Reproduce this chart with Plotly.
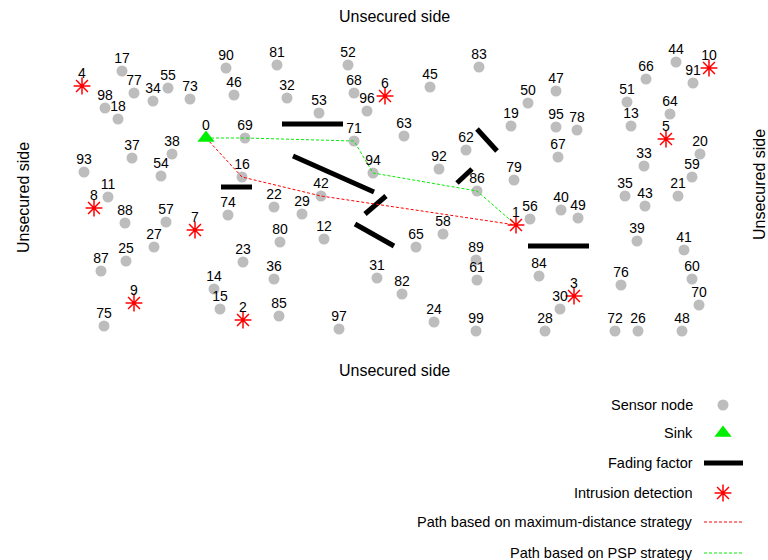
import plotly.graph_objects as go

W, H = 768, 560
FONT = "Liberation Sans, Arial, Helvetica, sans-serif"

# ---- data (field positions, in drawing units) ----
node_ids = list(range(100))
node_x = [206, 516, 243, 574, 82, 666, 385, 195, 94, 134,
          709, 108, 324, 631, 214, 220, 242, 122, 118, 511,
          700, 678, 274, 243, 434, 126, 638, 154, 545, 302,
          560, 377, 287, 644, 153, 625, 274, 132, 172, 637,
          561, 684, 321, 645, 676, 430, 234, 556, 682, 578,
          528, 627, 348, 319, 161, 168, 530, 166, 443, 692,
          692, 477, 466, 404, 670, 416, 646, 558, 354, 245,
          699, 354, 615, 190, 228, 104, 621, 134, 577, 514,
          280, 277, 402, 479, 539, 279, 477, 101, 125, 476,
          226, 693, 439, 84, 373, 556, 367, 339, 105, 476]
node_y = [138, 225, 320, 296, 86, 139, 96, 230, 208, 303,
          68, 197, 239, 126, 289, 309, 177, 71, 119, 126,
          154, 196, 207, 262, 322, 261, 331, 247, 331, 214,
          309, 278, 98, 166, 101, 196, 279, 158, 154, 241,
          210, 250, 196, 206, 62, 87, 95, 91, 331, 218,
          103, 102, 65, 113, 176, 88, 219, 222, 234, 177,
          279, 280, 150, 136, 114, 247, 79, 157, 93, 138,
          305, 141, 331, 99, 215, 326, 285, 93, 130, 180,
          242, 65, 294, 67, 276, 316, 191, 271, 223, 260,
          68, 83, 169, 172, 173, 127, 111, 329, 108, 331]
sink_id = 0
intrusion_ids = [1, 2, 3, 4, 5, 6, 7, 8, 9, 10]
path_max_distance = [0, 16, 42, 1]
path_psp = [0, 69, 71, 94, 86, 1]

# fading factor segments: (x0, y0, x1, y1)
fading_x0 = [282, 221, 293, 365, 355, 477, 457, 528]
fading_y0 = [124, 187, 156, 214, 224, 129, 183, 246]
fading_x1 = [343, 252, 374, 386, 394, 497, 472, 589]
fading_y1 = [124, 187, 192, 196, 246, 151, 169, 246]

side_label = "Unsecured side"
legend_labels = ["Sensor node", "Sink", "Fading factor", "Intrusion detection",
                 "Path based on maximum-distance strategy", "Path based on PSP strategy"]

GRAY = "#bdbdbd"
GREEN = "#00ee00"
RED = "#ff0000"

fig = go.Figure()

# fading factor bars
for x0, y0, x1, y1 in zip(fading_x0, fading_y0, fading_x1, fading_y1):
    fig.add_trace(go.Scatter(x=[x0, x1], y=[y0, y1], mode="lines",
                             line=dict(color="black", width=5), hoverinfo="skip"))

# sensor nodes (all except sink and intrusion ones)
sensor = [i for i in node_ids if i != sink_id and i not in intrusion_ids]
fig.add_trace(go.Scatter(x=[node_x[i] for i in sensor], y=[node_y[i] for i in sensor],
                         mode="markers", marker=dict(color=GRAY, size=11, line=dict(width=0))))

# paths
fig.add_trace(go.Scatter(x=[node_x[i] for i in path_max_distance],
                         y=[node_y[i] for i in path_max_distance], mode="lines",
                         line=dict(color=RED, width=1, dash="3px,2px")))
fig.add_trace(go.Scatter(x=[node_x[i] for i in path_psp],
                         y=[node_y[i] for i in path_psp], mode="lines",
                         line=dict(color=GREEN, width=1, dash="3px,2px")))

# intrusion detections
fig.add_trace(go.Scatter(x=[node_x[i] for i in intrusion_ids], y=[node_y[i] for i in intrusion_ids],
                         mode="markers",
                         marker=dict(symbol="asterisk-open", size=14, color=RED,
                                     line=dict(color=RED, width=1.5))))
# sink
fig.add_trace(go.Scatter(x=[node_x[sink_id]], y=[node_y[sink_id]], mode="markers",
                         marker=dict(symbol="triangle-up", size=15, color=GREEN, line=dict(width=0))))

# node labels
LABEL_DY = 12
fig.add_trace(go.Scatter(x=node_x, y=[v - LABEL_DY for v in node_y], mode="text",
                         text=[str(i) for i in node_ids], textposition="middle center",
                         textfont=dict(family=FONT, size=14, color="black"), hoverinfo="skip"))

# side labels
ann = []
ann.append(dict(x=394, y=16, text=side_label, showarrow=False, font=dict(family=FONT, size=16, color="black")))
ann.append(dict(x=394, y=370, text=side_label, showarrow=False, font=dict(family=FONT, size=16, color="black")))
ann.append(dict(x=23, y=198, text=side_label, textangle=-90, showarrow=False, font=dict(family=FONT, size=16, color="black")))
ann.append(dict(x=759, y=185, text=side_label, textangle=-90, showarrow=False, font=dict(family=FONT, size=16, color="black")))

# manual legend
leg_y = [405, 433, 463, 493, 522, 553]
leg_tx = 695
leg_sx = 723
for lab, ly in zip(legend_labels, leg_y):
    ann.append(dict(x=leg_tx, y=ly, text=lab, showarrow=False, xanchor="right",
                    font=dict(family=FONT, size=14.5, color="black")))
fig.add_trace(go.Scatter(x=[leg_sx], y=[leg_y[0]], mode="markers",
                         marker=dict(color=GRAY, size=11, line=dict(width=0))))
fig.add_trace(go.Scatter(x=[leg_sx], y=[leg_y[1]], mode="markers",
                         marker=dict(symbol="triangle-up", size=15, color=GREEN, line=dict(width=0))))
fig.add_trace(go.Scatter(x=[704, 743], y=[leg_y[2], leg_y[2]], mode="lines",
                         line=dict(color="black", width=5)))
fig.add_trace(go.Scatter(x=[leg_sx], y=[leg_y[3]], mode="markers",
                         marker=dict(symbol="asterisk-open", size=14, color=RED,
                                     line=dict(color=RED, width=1.5))))
fig.add_trace(go.Scatter(x=[704, 743], y=[leg_y[4], leg_y[4]], mode="lines",
                         line=dict(color=RED, width=1, dash="3px,2px")))
fig.add_trace(go.Scatter(x=[704, 743], y=[leg_y[5], leg_y[5]], mode="lines",
                         line=dict(color=GREEN, width=1, dash="3px,2px")))

fig.update_layout(
    width=W, height=H, margin=dict(l=0, r=0, t=0, b=0),
    paper_bgcolor="white", plot_bgcolor="white", showlegend=False,
    xaxis=dict(range=[0, W], visible=False, fixedrange=True),
    yaxis=dict(range=[H, 0], visible=False, fixedrange=True),
    annotations=ann, hovermode=False,
)

fig.write_html("out.html", post_script="document.body.style.margin='0';document.body.style.overflow='hidden';",
               config={"displayModeBar": False})
